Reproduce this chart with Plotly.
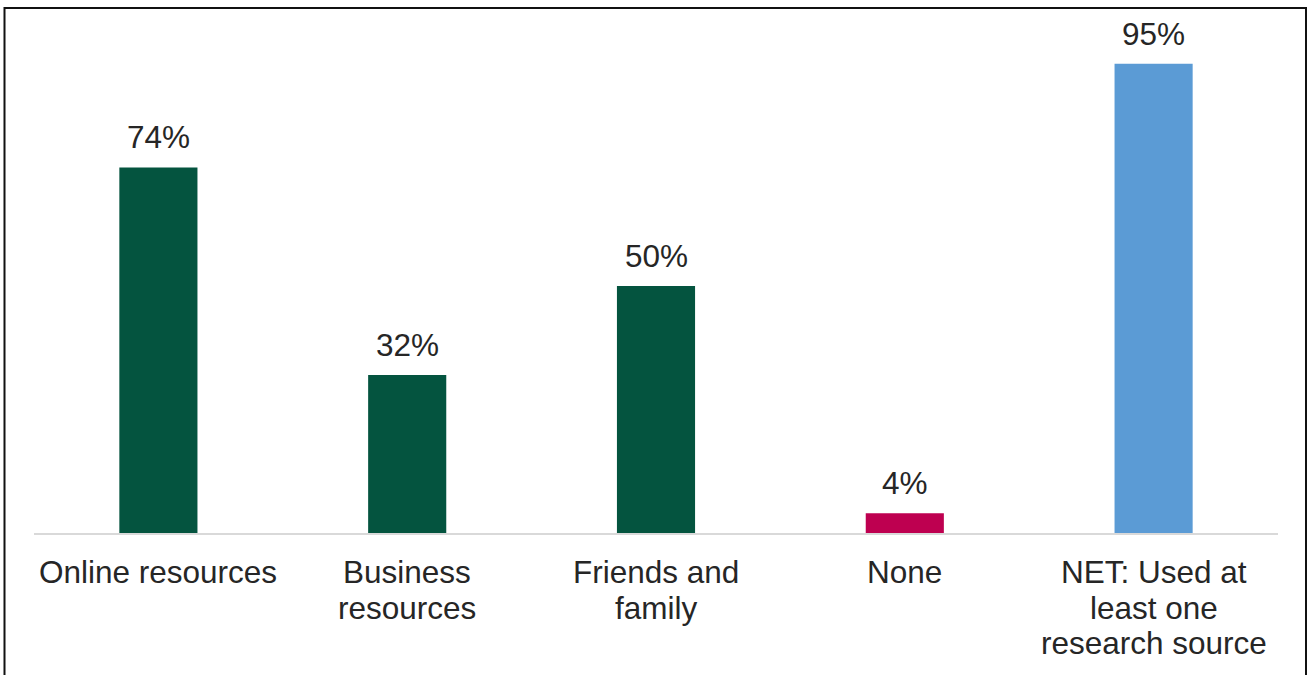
import plotly.graph_objects as go

# Research sources used (share of respondents, %)
categories = [
    "Online resources",
    "Business<br>resources",
    "Friends and<br>family",
    "None",
    "NET: Used at<br>least one<br>research source",
]
values = [74, 32, 50, 4, 95]
value_labels = ["74%", "32%", "50%", "4%", "95%"]
bar_colors = ["#04543F", "#04543F", "#04543F", "#BE0050", "#5B9BD5"]

FONT = "Liberation Sans, Arial, sans-serif"
TEXT_COLOR = "#262626"
FONT_SIZE = 31.5
LINE_GAP = 35.5

W, H = 1312, 675
L, R, T, B = 34, 34, 39, 142

fig = go.Figure(
    go.Bar(
        x=categories,
        y=values,
        marker=dict(color=bar_colors, line=dict(width=0)),
        hoverinfo="skip",
    )
)

annotations = []
# value labels above each bar
for cat, val, lab in zip(categories, values, value_labels):
    annotations.append(dict(
        x=cat, y=val, xref="x", yref="y", text=lab, showarrow=False,
        yanchor="middle", yshift=30,
        font=dict(family=FONT, size=FONT_SIZE, color=TEXT_COLOR),
    ))
# category labels under the axis, one annotation per text line
for cat in categories:
    for i, line in enumerate(cat.split("<br>")):
        annotations.append(dict(
            x=cat, y=0, xref="x", yref="y", text=line, showarrow=False,
            yanchor="middle", yshift=-(39 + i * LINE_GAP),
            font=dict(family=FONT, size=FONT_SIZE, color=TEXT_COLOR),
        ))

pw, ph = W - L - R, H - T - B
def px_x(p):
    return (p - L) / pw
def px_y(p):
    return (H - B - p) / ph

fig.update_layout(
    width=W, height=H,
    margin=dict(l=L, r=R, t=T, b=B, pad=0),
    paper_bgcolor="white", plot_bgcolor="white",
    bargap=0.686,
    showlegend=False,
    font=dict(family=FONT, size=FONT_SIZE, color=TEXT_COLOR),
    xaxis=dict(
        showticklabels=False, ticks="", showgrid=False, zeroline=False,
        showline=True, linecolor="#D9D9D9", linewidth=1.5,
    ),
    yaxis=dict(
        range=[0, 100], visible=False, showgrid=False, zeroline=False,
    ),
    annotations=annotations,
    shapes=[dict(
        type="rect", xref="paper", yref="paper",
        x0=px_x(4.5), x1=px_x(1306), y0=px_y(690), y1=px_y(8),
        line=dict(color="#111111", width=2), fillcolor="rgba(0,0,0,0)",
        layer="above",
    )],
)

fig.write_html("out.html")
